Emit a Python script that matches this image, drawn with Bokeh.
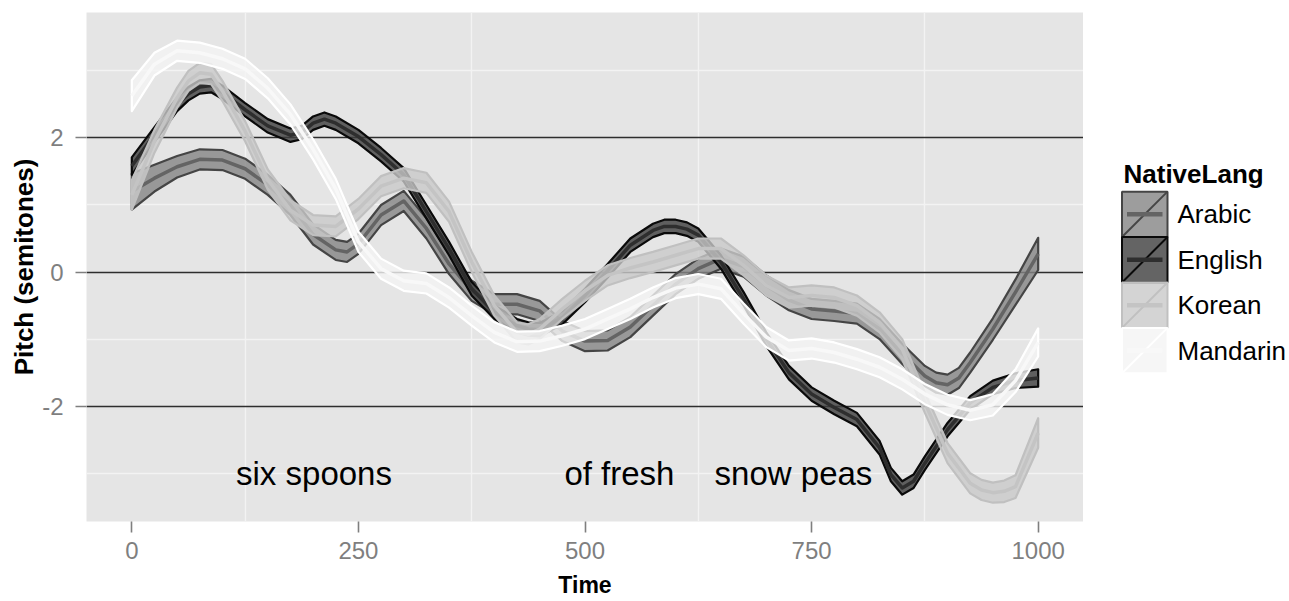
from bokeh.plotting import figure
from bokeh.models import FixedTicker, Range1d
from bokeh.layouts import row
from bokeh.embed import file_html
from bokeh.resources import INLINE
from bokeh.core.properties import value

# ---------------- data ----------------
languages = ["Arabic", "English", "Korean", "Mandarin"]

arabic_time = [0, 25, 50, 75, 100, 125, 150, 175, 200, 225, 237.5, 250, 275, 300, 325, 350, 375,
               400, 425, 450, 475, 500, 525, 550, 575, 600, 625, 650, 675, 700, 725, 750, 775,
               800, 825, 850, 875, 887.5, 900, 912.5, 925, 950, 975, 1000]
arabic_mid = [1.2, 1.4, 1.57, 1.68, 1.67, 1.54, 1.3, 1.0, 0.56, 0.33, 0.3, 0.42, 0.85, 1.06,
              0.65, 0.12, -0.28, -0.48, -0.48, -0.58, -0.88, -1.03, -1.02, -0.82, -0.5, -0.18,
              0.05, 0.2, 0.08, -0.2, -0.42, -0.55, -0.58, -0.62, -0.85, -1.22, -1.55, -1.65,
              -1.68, -1.58, -1.35, -0.85, -0.3, 0.27]
arabic_half = [0.27, 0.2, 0.16, 0.15, 0.15, 0.15, 0.15, 0.15, 0.15, 0.15, 0.15, 0.15, 0.15,
               0.15, 0.15, 0.15, 0.15, 0.15, 0.15, 0.15, 0.15, 0.15, 0.15, 0.15, 0.15, 0.15, 0.15,
               0.15, 0.15, 0.15, 0.15, 0.15, 0.15, 0.15, 0.15, 0.15, 0.15, 0.15, 0.15, 0.15, 0.15,
               0.16, 0.19, 0.24]

english_time = [0, 25, 50, 62.5, 75, 87.5, 100, 125, 150, 175, 187.5, 200, 212.5, 225, 250, 275,
                300, 325, 350, 375, 400, 425, 437.5, 450, 475, 500, 525, 550, 575, 587.5, 600,
                612.5, 625, 650, 675, 700, 725, 750, 775, 800, 825, 837.5, 850, 862.5, 875, 900,
                925, 950, 975, 1000]
english_mid = [1.58, 2.05, 2.5, 2.66, 2.76, 2.78, 2.68, 2.42, 2.18, 2.04, 2.08, 2.22, 2.28,
               2.22, 2.02, 1.75, 1.45, 0.9, 0.35, -0.25, -0.6, -0.8, -0.85, -0.86, -0.68, -0.35,
               0.02, 0.4, 0.62, 0.68, 0.68, 0.64, 0.55, 0.15, -0.4, -1.0, -1.5, -1.82, -2.02,
               -2.2, -2.62, -3.02, -3.22, -3.12, -2.85, -2.35, -1.95, -1.72, -1.62, -1.58]
english_half = [0.13, 0.11, 0.1, 0.1, 0.1, 0.1, 0.1, 0.1, 0.1, 0.1, 0.1, 0.1, 0.1, 0.1, 0.1, 0.1,
                0.1, 0.1, 0.1, 0.1, 0.1, 0.1, 0.1, 0.1, 0.1, 0.1, 0.1, 0.1, 0.1, 0.1, 0.1, 0.1,
                0.1, 0.1, 0.1, 0.1, 0.1, 0.1, 0.1, 0.1, 0.1, 0.1, 0.1, 0.1, 0.1, 0.1, 0.1, 0.1,
                0.11, 0.13]

korean_time = [0, 25, 50, 62.5, 75, 87.5, 100, 125, 150, 175, 200, 225, 250, 275, 300, 325, 350,
               375, 400, 425, 437.5, 450, 475, 500, 525, 550, 575, 600, 625, 650, 675, 700, 725,
               750, 775, 800, 825, 850, 875, 900, 925, 937.5, 950, 962.5, 975, 1000]
korean_mid = [1.15, 1.95, 2.6, 2.85, 2.97, 2.95, 2.7, 2.1, 1.38, 0.92, 0.7, 0.68, 0.94, 1.28,
              1.4, 1.33, 0.9, 0.15, -0.5, -0.9, -0.93, -0.85, -0.55, -0.28, -0.05, 0.06, 0.15,
              0.25, 0.35, 0.35, 0.1, -0.2, -0.38, -0.35, -0.38, -0.5, -0.75, -1.15, -1.95, -2.7,
              -3.15, -3.25, -3.29, -3.27, -3.2, -2.4]
korean_half = [0.22, 0.17, 0.15, 0.15, 0.15, 0.15, 0.15, 0.15, 0.15, 0.15, 0.15, 0.15, 0.15,
               0.15, 0.15, 0.15, 0.15, 0.15, 0.15, 0.15, 0.15, 0.15, 0.15, 0.15, 0.15, 0.15, 0.15,
               0.15, 0.15, 0.15, 0.15, 0.15, 0.15, 0.15, 0.15, 0.15, 0.15, 0.15, 0.15, 0.15, 0.15,
               0.15, 0.15, 0.16, 0.17, 0.22]

mandarin_time = [0, 25, 50, 75, 100, 125, 150, 175, 200, 225, 250, 275, 300, 325, 350, 375, 400,
                 425, 450, 475, 500, 525, 550, 575, 600, 625, 650, 675, 700, 725, 750, 775, 800,
                 825, 850, 875, 900, 925, 950, 975, 1000]
mandarin_mid = [2.63, 3.1, 3.3, 3.27, 3.18, 3.03, 2.74, 2.35, 1.83, 1.24, 0.45, 0.05, -0.13,
                -0.17, -0.38, -0.65, -0.9, -1.04, -1.03, -0.95, -0.85, -0.7, -0.55, -0.38, -0.24,
                -0.18, -0.25, -0.62, -0.97, -1.17, -1.14, -1.2, -1.3, -1.42, -1.6, -1.82, -1.98,
                -2.06, -1.98, -1.62, -1.05]
mandarin_half = [0.23, 0.17, 0.15, 0.15, 0.15, 0.15, 0.15, 0.15, 0.15, 0.15, 0.15, 0.15, 0.15,
                 0.15, 0.15, 0.15, 0.15, 0.15, 0.15, 0.15, 0.15, 0.15, 0.15, 0.15, 0.15, 0.15,
                 0.15, 0.15, 0.15, 0.15, 0.15, 0.15, 0.15, 0.15, 0.15, 0.15, 0.15, 0.15, 0.16,
                 0.17, 0.21]

words = ["six spoons", "of fresh", "snow peas"]
word_x = [201, 538, 730]
word_y = [-3.0, -3.0, -3.0]

x_ticks = [0, 250, 500, 750, 1000]
x_minor = [125, 375, 625, 875]
y_ticks = [-2, 0, 2]
y_tick_labels = ["-2", "0", "2"]
y_minor = [-3, -1, 1, 3]
hline_y = [-2, 0, 2]

series = {
    "Arabic": (arabic_time, arabic_mid, arabic_half),
    "English": (english_time, english_mid, english_half),
    "Korean": (korean_time, korean_mid, korean_half),
    "Mandarin": (mandarin_time, mandarin_mid, mandarin_half),
}

# ---------------- styles ----------------
styles = {
    "Arabic": dict(fill="#858585", edge="#454545", mid="#646464"),
    "English": dict(fill="#3d3d3d", edge="#0a0a0a", mid="#2e2e2e"),
    "Korean": dict(fill="#c9c9c9", edge="#c0c0c0", mid="#c4c4c4"),
    "Mandarin": dict(fill="#f4f4f4", edge="#ffffff", mid="#f8f8f8"),
}
FILL_ALPHA = 0.8
FONT = "Liberation Sans"

p = figure(width=1083, height=600, x_range=Range1d(-50, 1050), y_range=Range1d(-3.72, 3.87),
           output_backend="svg", toolbar_location=None,
           min_border_left=86, min_border_right=0, min_border_top=12, min_border_bottom=78)
p.background_fill_color = "#e5e5e5"
p.border_fill_color = "white"
p.outline_line_color = None

p.xgrid.ticker = FixedTicker(ticks=x_minor)
p.ygrid.ticker = FixedTicker(ticks=y_minor)
for g in (p.xgrid, p.ygrid):
    g.grid_line_color = "#f3f3f3"
    g.grid_line_width = 1.3

p.hspan(y=hline_y, line_color="#2e2e2e", line_width=1.4)

for lang in languages:
    t, mid, half = series[lang]
    st = styles[lang]
    upper = [m + h for m, h in zip(mid, half)]
    lower = [m - h for m, h in zip(mid, half)]
    px = t + t[::-1]
    py = upper + lower[::-1]
    p.patch(px, py, fill_color=st["fill"], fill_alpha=FILL_ALPHA,
            line_color=st["edge"], line_width=2.2, line_join="round")
    p.line(t, mid, line_color=st["mid"], line_width=3.5, line_join="round")

p.text(x=word_x, y=word_y, text=words, text_font=value(FONT), text_font_size=value("33px"),
       text_align="center", text_baseline="middle", text_color="black")

for ax in (p.xaxis[0], p.yaxis[0]):
    ax.axis_line_color = None
    ax.major_tick_line_color = "#7f7f7f"
    ax.major_tick_line_width = 1.6
    ax.minor_tick_line_color = None
    ax.major_tick_out = 11
    ax.major_tick_in = 0
    ax.major_label_text_color = "#7f7f7f"
    ax.major_label_text_font = FONT
    ax.major_label_text_font_size = "24px"
    ax.axis_label_text_font = FONT
    ax.axis_label_text_font_style = "bold"
    ax.axis_label_text_color = "black"

p.xaxis.ticker = FixedTicker(ticks=x_ticks)
p.xaxis.axis_label = "Time"
p.xaxis.axis_label_text_font_size = "23px"
p.xaxis.major_label_standoff = 9
p.xaxis.axis_label_standoff = 10

p.yaxis.ticker = FixedTicker(ticks=y_ticks)
p.yaxis.major_label_overrides = {t: s for t, s in zip(y_ticks, y_tick_labels)}
p.yaxis.axis_label = "Pitch (semitones)"
p.yaxis.axis_label_text_font_size = "26px"
p.yaxis.major_label_standoff = 12
p.yaxis.axis_label_standoff = 0

# ---------------- legend (separate panel; its frame is aligned with the main frame) ----------
lg = figure(width=205, height=600, x_range=Range1d(0, 205), y_range=Range1d(522, 12),
            output_backend="svg", toolbar_location=None,
            min_border_left=0, min_border_right=0, min_border_top=12, min_border_bottom=78)
lg.axis.visible = False
lg.grid.visible = False
lg.outline_line_color = None
lg.background_fill_color = "white"
lg.border_fill_color = "white"

KEY_LEFT, KEY_SIZE, KEY_TOP, LABEL_X = 38.5, 45.5, 191.5, 94
TITLE_X, TITLE_Y = 40, 174
lefts = [KEY_LEFT] * len(languages)
rights = [KEY_LEFT + KEY_SIZE] * len(languages)
tops = [KEY_TOP + i * KEY_SIZE for i in range(len(languages))]
bottoms = [t + KEY_SIZE for t in tops]
centers = [t + KEY_SIZE / 2 for t in tops]

lg.text(x=[TITLE_X], y=[TITLE_Y], text=["NativeLang"], text_font=value(FONT),
        text_font_size=value("26px"), text_font_style="bold", text_baseline="middle",
        text_align="left", text_color="black")
for i, lang in enumerate(languages):
    st = styles[lang]
    lg.quad(left=[lefts[i]], right=[rights[i]], top=[tops[i]], bottom=[bottoms[i]],
            fill_color=st["fill"], fill_alpha=FILL_ALPHA, line_color=st["edge"], line_width=2)
    lg.segment(x0=[lefts[i]], y0=[bottoms[i]], x1=[rights[i]], y1=[tops[i]],
               line_color=st["edge"], line_width=2)
    lg.segment(x0=[lefts[i] + 5], y0=[centers[i]], x1=[rights[i] - 5], y1=[centers[i]],
               line_color=st["mid"], line_width=4.5)
lg.text(x=[LABEL_X] * len(languages), y=centers, text=languages, text_font=value(FONT),
        text_font_size=value("26px"), text_baseline="middle", text_align="left",
        text_color="black")

layout = row(p, lg)
open("out.html", "w").write(file_html(layout, INLINE))
